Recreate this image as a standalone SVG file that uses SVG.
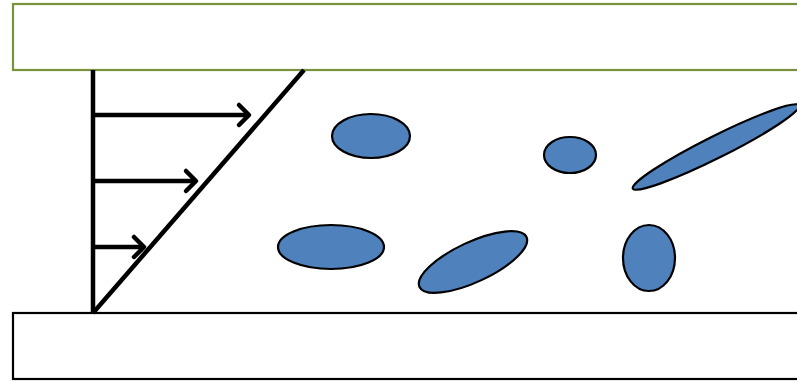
<svg xmlns="http://www.w3.org/2000/svg" width="797" height="381" viewBox="0 0 797 381">
<defs>
<style>
.p{fill:#4F81BD;stroke:#000;stroke-width:2.2}
.l{stroke:#000;stroke-width:4.5;fill:none}
</style>
<marker id="ah" markerWidth="10" markerHeight="10" refX="8" refY="5" orient="auto" markerUnits="userSpaceOnUse" viewBox="0 0 10 10" overflow="visible">
<path d="M-2,-5 L8,5 L-2,15" fill="none" stroke="#000" stroke-width="4.5" stroke-linecap="round" stroke-linejoin="round"/>
</marker>
</defs>
<rect width="797" height="381" fill="#fff"/>
<g id="top-plate"><rect x="13" y="4" width="800" height="66" fill="#fff" stroke="#77933C" stroke-width="2.2"/></g>
<g id="bottom-plate"><rect x="13" y="313" width="800" height="66" fill="#fff" stroke="#000" stroke-width="2.2"/></g>
<g id="connectors">
<line class="l" x1="93" y1="70" x2="93" y2="313"/>
<line class="l" x1="93" y1="313" x2="304" y2="70"/>
<line class="l" x1="93" y1="115" x2="249" y2="115" marker-end="url(#ah)"/>
<line class="l" x1="93" y1="181" x2="196" y2="181" marker-end="url(#ah)"/>
<line class="l" x1="93" y1="247" x2="144" y2="247" marker-end="url(#ah)"/>
</g>
<g id="p1"><ellipse class="p" cx="371" cy="136" rx="39" ry="22"/></g>
<g id="p2"><ellipse class="p" cx="570" cy="155" rx="26" ry="18"/></g>
<g id="p3"><ellipse class="p" cx="0" cy="0" rx="93" ry="11" transform="translate(716,147) rotate(-26.6)"/></g>
<g id="p4"><ellipse class="p" cx="331" cy="247" rx="53" ry="22"/></g>
<g id="p5"><ellipse class="p" cx="0" cy="0" rx="59" ry="20" transform="translate(473,262) rotate(-25)"/></g>
<g id="p6"><ellipse class="p" cx="649" cy="258" rx="26" ry="33"/></g>
</svg>
